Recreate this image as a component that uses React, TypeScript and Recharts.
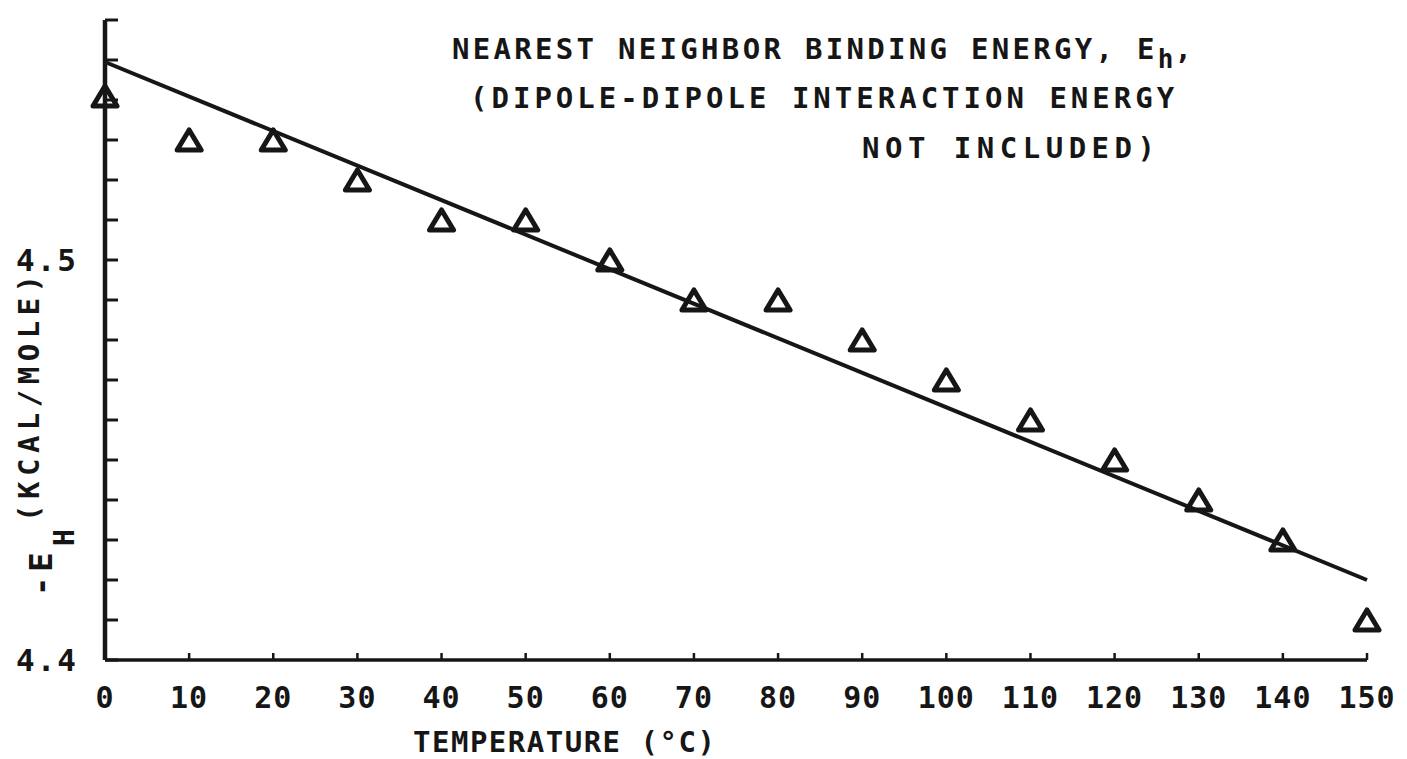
import { ComposedChart, Scatter, XAxis, YAxis, ReferenceLine, Customized } from "recharts";

// temperature (°C) and -E_H (kcal/mole)
const temps = [0, 10, 20, 30, 40, 50, 60, 70, 80, 90, 100, 110, 120, 130, 140, 150];
const energy = [4.541, 4.53, 4.53, 4.52, 4.51, 4.51, 4.5, 4.49, 4.49, 4.48, 4.47, 4.46, 4.45, 4.44, 4.43, 4.41];

// straight fitted line, end points
const fitX = [0, 150];
const fitY = [4.5495, 4.42];

const xTicks = [0, 10, 20, 30, 40, 50, 60, 70, 80, 90, 100, 110, 120, 130, 140, 150];
const yTicks = [4.4, 4.41, 4.42, 4.43, 4.44, 4.45, 4.46, 4.47, 4.48, 4.49, 4.5, 4.51, 4.52, 4.53, 4.54, 4.55, 4.56];
const yLabeled = ["4.4", "4.5"];

const data = temps.map((t, i) => ({ t, e: energy[i] }));

const FONT = "'DejaVu Sans Mono', monospace";
const INK = "#161616";

const Triangle = (props: any) => {
	const { cx, cy } = props;
	if (cx == null || cy == null) return null;
	return (
		<path
			d={`M${cx},${cy - 10} L${cx + 12},${cy + 10} L${cx - 12},${cy + 10} Z`}
			fill="none"
			stroke={INK}
			strokeWidth={5}
			strokeLinejoin="round"
		/>
	);
};

const YTick = (props: any) => {
	const { x, y, payload } = props;
	const txt = payload.value.toFixed(1);
	const show = yLabeled.includes(txt) && Math.abs(payload.value - Number(txt)) < 1e-6;
	return (
		<g>
			<line x1={x} y1={y} x2={x + 13} y2={y} stroke={INK} strokeWidth={3} />
			{show && (
				<text
					x={x - 27}
					y={y + 11}
					textAnchor="end"
					fontFamily={FONT}
					fontWeight="bold"
					fontSize={31}
					letterSpacing={2}
					fill={INK}>
					{txt}
				</text>
			)}
		</g>
	);
};

const XTick = (props: any) => {
	const { x, y, payload } = props;
	return (
		<g>
			<line x1={x} y1={y} x2={x} y2={y - 7} stroke={INK} strokeWidth={2.5} />
			<text
				x={x}
				y={y + 48}
				textAnchor="middle"
				fontFamily={FONT}
				fontWeight="bold"
				fontSize={30}
				letterSpacing={1}
				fill={INK}>
				{payload.value}
			</text>
		</g>
	);
};

const Annotations = () => (
	<g fontFamily={FONT} fontWeight="bold" fill={INK}>
		<text x={452} y={59} fontSize={29} letterSpacing={3.3}>
			NEAREST NEIGHBOR BINDING ENERGY, E
			<tspan fontSize={26} dy={9} letterSpacing={1}>h</tspan>
			<tspan dy={-9}>,</tspan>
		</text>
		<text x={470} y={108} fontSize={29} letterSpacing={4}>
			(DIPOLE-DIPOLE INTERACTION ENERGY
		</text>
		<text x={862} y={158} fontSize={29} letterSpacing={5.5}>
			NOT INCLUDED)
		</text>
		<text x={413} y={752} fontSize={29} letterSpacing={1.5}>
			TEMPERATURE (°C)
		</text>
		<text transform="translate(52,596) rotate(-90)" fontSize={32} letterSpacing={5}>
			-E
		</text>
		<text transform="translate(74,546) rotate(-90)" fontSize={28}>
			H
		</text>
		<text transform="translate(39,522) rotate(-90)" fontSize={29} letterSpacing={5.5}>
			(KCAL/MOLE)
		</text>
	</g>
);

export default function App() {
	return (
		<div style={{ position: "absolute", left: 0, top: 0, width: 1407, height: 759, background: "#fff" }}>
			<ComposedChart width={1407} height={759} data={data} margin={{ top: 20, right: 40, left: 0, bottom: 0 }}>
				<XAxis
					type="number"
					dataKey="t"
					domain={[0, 150]}
					ticks={xTicks}
					interval={0}
					height={99}
					tickSize={0}
					tickMargin={0}
					tickLine={false}
					axisLine={{ stroke: INK, strokeWidth: 3.5 }}
					tick={<XTick />}
				/>
				<YAxis
					type="number"
					dataKey="e"
					domain={[4.4, 4.56]}
					ticks={yTicks}
					interval={0}
					width={105}
					tickSize={0}
					tickMargin={0}
					tickLine={false}
					axisLine={{ stroke: INK, strokeWidth: 4.5 }}
					tick={<YTick />}
					allowDataOverflow
				/>
				<ReferenceLine
					segment={[
						{ x: fitX[0], y: fitY[0] },
						{ x: fitX[1], y: fitY[1] },
					]}
					stroke={INK}
					strokeWidth={4}
					ifOverflow="visible"
				/>
				<Scatter dataKey="e" shape={<Triangle />} isAnimationActive={false} />
				<Customized component={Annotations} />
			</ComposedChart>
		</div>
	);
}
